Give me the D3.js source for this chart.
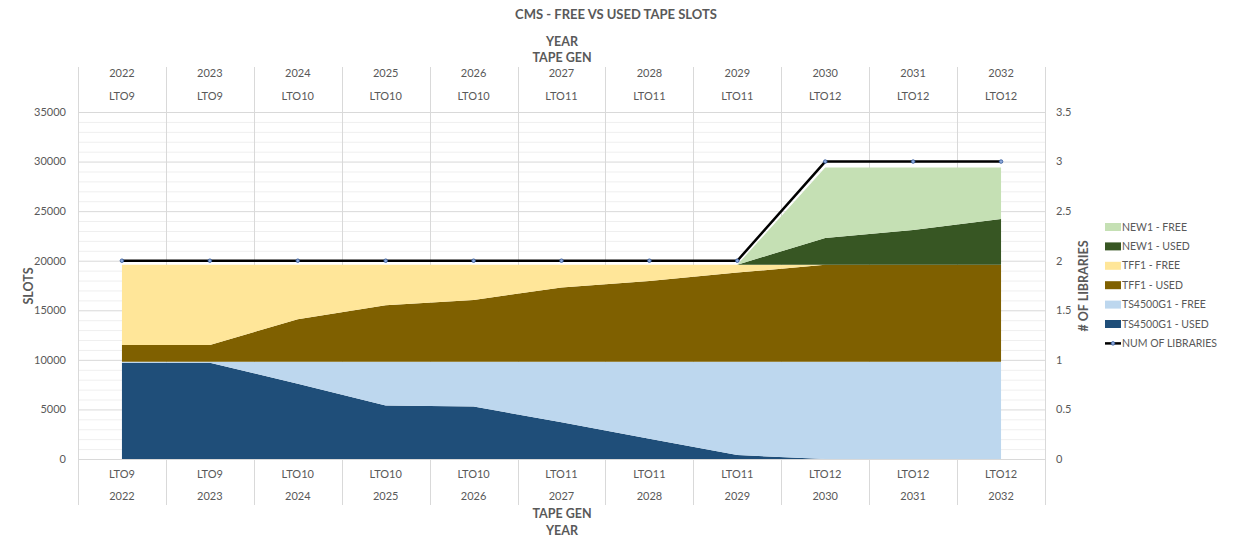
<!DOCTYPE html>
<html>
<head>
<meta charset="utf-8">
<script src="https://cdn.jsdelivr.net/npm/d3@7"></script>
<style>
  html, body { margin: 0; padding: 0; background: #fff; }
  svg { display: block; font-family: Lato, "Liberation Sans", sans-serif; }
</style>
</head>
<body>
<svg id="chart" width="1235" height="538"></svg>
<script>
// ---- data ----
const years = ["2022","2023","2024","2025","2026","2027","2028","2029","2030","2031","2032"];
const tapeGen = ["LTO9","LTO9","LTO10","LTO10","LTO10","LTO11","LTO11","LTO11","LTO12","LTO12","LTO12"];
const ts4500Used = [9700, 9700, 7600, 5400, 5300, 3700, 2050, 400, 0, 0, 0];
const ts4500Free = [100, 100, 2200, 4400, 4500, 6100, 7750, 9400, 9800, 9800, 9800];
const tff1Used   = [1700, 1700, 4300, 5700, 6250, 7500, 8150, 9000, 9800, 9800, 9800];
const tff1Free   = [8100, 8100, 5500, 4100, 3550, 2300, 1650, 800, 0, 0, 0];
const new1Used   = [0, 0, 0, 0, 0, 0, 0, 0, 2700, 3500, 4600];
const new1Free   = [0, 0, 0, 0, 0, 0, 0, 0, 7100, 6300, 5200];
const numLibraries = [2, 2, 2, 2, 2, 2, 2, 2, 3, 3, 3];
const leftTicks = [0, 5000, 10000, 15000, 20000, 25000, 30000, 35000];
const rightTicks = [0, 0.5, 1, 1.5, 2, 2.5, 3, 3.5];

const seriesDefs = [
  {key: "ts4500Used", name: "TS4500G1 - USED", values: ts4500Used, color: "#1F4E79"},
  {key: "ts4500Free", name: "TS4500G1 - FREE", values: ts4500Free, color: "#BDD7EE"},
  {key: "tff1Used",   name: "TFF1 - USED",     values: tff1Used,   color: "#7F6000"},
  {key: "tff1Free",   name: "TFF1 - FREE",     values: tff1Free,   color: "#FFE699"},
  {key: "new1Used",   name: "NEW1 - USED",     values: new1Used,   color: "#375623"},
  {key: "new1Free",   name: "NEW1 - FREE",     values: new1Free,   color: "#C5E0B4"}
];

// ---- layout ----
const svg = d3.select("#chart");
const L = 78, R = 1045, T = 112, B = 459;
const textColor = "#595959";

const x = d3.scaleBand().domain(years).range([L, R]).padding(0);
const cx = d => x(d) + x.bandwidth() / 2;
const y = d3.scaleLinear().domain([0, 35000]).range([B, T]);
const y2 = d3.scaleLinear().domain([0, 3.5]).range([B, T]);

// minor gridlines
const minor = d3.range(0, 35001, 1000).filter(v => v % 5000 !== 0);
svg.append("g").selectAll("line").data(minor).join("line")
  .attr("x1", L).attr("x2", R).attr("y1", d => y(d) + 0.5).attr("y2", d => y(d) + 0.5)
  .attr("stroke", "#efefef").attr("stroke-width", 1);
// major gridlines
svg.append("g").selectAll("line").data(leftTicks).join("line")
  .attr("x1", L).attr("x2", R).attr("y1", d => y(d) + 0.5).attr("y2", d => y(d) + 0.5)
  .attr("stroke", "#d9d9d9").attr("stroke-width", 1);

// vertical category separators (extend into top & bottom multi-level axes)
const seps = years.map(d => x(d)).concat([R]);
svg.append("g").selectAll("line").data(seps).join("line")
  .attr("x1", d => Math.round(d) + 0.5).attr("x2", d => Math.round(d) + 0.5)
  .attr("y1", 67).attr("y2", 505)
  .attr("stroke", "#d9d9d9").attr("stroke-width", 1);

// ---- stacked areas ----
const rows = years.map((yr, i) => {
  const o = {year: yr};
  seriesDefs.forEach(s => o[s.key] = s.values[i]);
  return o;
});
const stack = d3.stack().keys(seriesDefs.map(s => s.key));
const stacked = stack(rows);
const area = d3.area()
  .x(d => cx(d.data.year))
  .y0(d => y(d[0]))
  .y1(d => y(d[1]));
svg.append("g").selectAll("path").data(stacked).join("path")
  .attr("d", area)
  .attr("fill", (d, i) => seriesDefs[i].color);

// ---- line: num of libraries ----
const line = d3.line().x((d, i) => cx(years[i])).y(d => y2(d));
svg.append("path").datum(numLibraries)
  .attr("d", line).attr("fill", "none")
  .attr("stroke", "#000").attr("stroke-width", 2.5).attr("stroke-linejoin", "round");
svg.append("g").selectAll("circle").data(numLibraries).join("circle")
  .attr("cx", (d, i) => cx(years[i])).attr("cy", d => y2(d)).attr("r", 1.8)
  .attr("fill", "#8FAADC").attr("stroke", "#2F5597").attr("stroke-width", 0.8);

// ---- axes labels ----
const axisFont = 11;
svg.append("g").selectAll("text").data(leftTicks).join("text")
  .attr("x", 66).attr("y", d => y(d)).attr("dy", "0.35em")
  .attr("text-anchor", "end").attr("font-size", axisFont).attr("fill", textColor)
  .text(d => d);
svg.append("g").selectAll("text").data(rightTicks).join("text")
  .attr("x", 1056).attr("y", d => y2(d)).attr("dy", "0.35em")
  .attr("text-anchor", "start").attr("font-size", axisFont).attr("fill", textColor)
  .text(d => d);

// top multi-level axis
svg.append("g").selectAll("text").data(years).join("text")
  .attr("x", d => cx(d)).attr("y", 73).attr("dy", "0.35em")
  .attr("text-anchor", "middle").attr("font-size", axisFont).attr("fill", textColor)
  .text(d => d);
svg.append("g").selectAll("text").data(tapeGen).join("text")
  .attr("x", (d, i) => cx(years[i])).attr("y", 96).attr("dy", "0.35em")
  .attr("text-anchor", "middle").attr("font-size", axisFont).attr("fill", textColor)
  .text(d => d);
// bottom multi-level axis
svg.append("g").selectAll("text").data(tapeGen).join("text")
  .attr("x", (d, i) => cx(years[i])).attr("y", 474).attr("dy", "0.35em")
  .attr("text-anchor", "middle").attr("font-size", axisFont).attr("fill", textColor)
  .text(d => d);
svg.append("g").selectAll("text").data(years).join("text")
  .attr("x", d => cx(d)).attr("y", 496).attr("dy", "0.35em")
  .attr("text-anchor", "middle").attr("font-size", axisFont).attr("fill", textColor)
  .text(d => d);

// axis titles
const boldText = (txt, xx, yy, size, rot) => {
  const t = svg.append("text").attr("font-size", size).attr("font-weight", "bold")
    .attr("fill", textColor).attr("text-anchor", "middle").attr("dominant-baseline", "central").text(txt);
  if (rot) t.attr("transform", `translate(${xx},${yy}) rotate(-90)`);
  else t.attr("x", xx).attr("y", yy);
  return t;
};
boldText("CMS - FREE VS USED TAPE SLOTS", 616, 14, 13);
boldText("YEAR", 562, 41, 12.5);
boldText("TAPE GEN", 562, 57, 12.5);
boldText("TAPE GEN", 562, 513, 12.5);
boldText("YEAR", 562, 530, 12.5);
boldText("SLOTS", 28, 286, 12.5, true);
boldText("# OF LIBRARIES", 1083, 286, 12.5, true);

// ---- legend ----
const legendItems = seriesDefs.slice().reverse().map(s => ({name: s.name, color: s.color, type: "area"}))
  .concat([{name: "NUM OF LIBRARIES", type: "line"}]);
const lg = svg.append("g").selectAll("g").data(legendItems).join("g")
  .attr("transform", (d, i) => `translate(1105, ${227 + i * 19.4})`);
lg.filter(d => d.type === "area").append("rect")
  .attr("x", 0).attr("y", -4).attr("width", 16).attr("height", 8)
  .attr("fill", d => d.color);
lg.filter(d => d.type === "line").append("line")
  .attr("x1", 0).attr("x2", 16).attr("y1", 0).attr("y2", 0)
  .attr("stroke", "#000").attr("stroke-width", 2.5);
lg.filter(d => d.type === "line").append("circle")
  .attr("cx", 8).attr("cy", 0).attr("r", 1.8)
  .attr("fill", "#8FAADC").attr("stroke", "#2F5597").attr("stroke-width", 0.8);
lg.append("text").attr("x", 17).attr("y", 0).attr("dy", "0.35em")
  .attr("font-size", 10.5).attr("fill", textColor).text(d => d.name);
</script>
</body>
</html>
